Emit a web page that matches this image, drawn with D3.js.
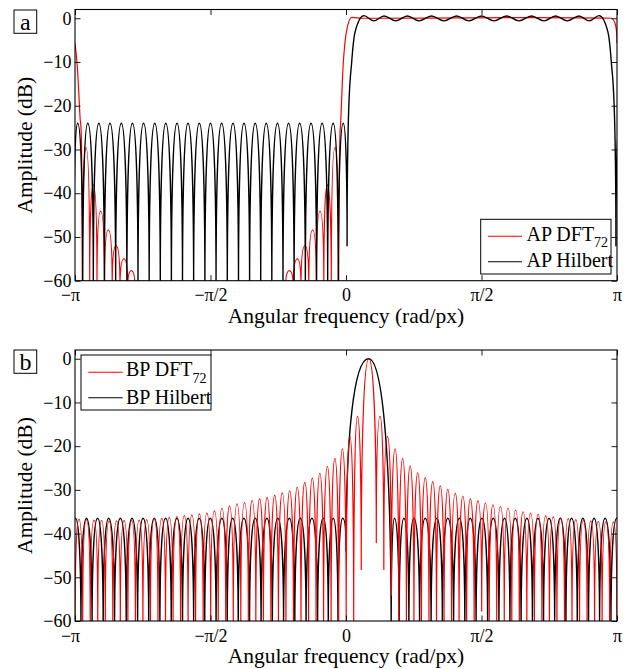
<!DOCTYPE html>
<html><head><meta charset="utf-8">
<script src="https://cdn.jsdelivr.net/npm/d3@7"></script>
<style>
body{margin:0;background:#fff;}
svg text{font-family:"Liberation Serif","Times New Roman",serif !important;fill:#000;}
</style></head><body>
<svg id="c" width="629" height="669"></svg>
<script>
// ---------------- data ----------------
// x in units of pi rad/px, y in dB; kind: n = null (cusp), p = local extremum, s = slope point
const xTickValues = [-1, -0.5, 0, 0.5, 1];
const xTickLabels = ["\u2212\u03c0", "\u2212\u03c0/2", "0", "\u03c0/2", "\u03c0"];
const yTickValues = [0, -10, -20, -30, -40, -50, -60];
const yTickLabels = ["0", "\u221210", "\u221220", "\u221230", "\u221240", "\u221250", "\u221260"];

const apDft = [
 [-1.0,-5.7,'s'],[-0.9915,-11,'s'],[-0.9816,-22.5,'s'],[-0.9753,-31.6,'s'],[-0.9732,-62,'n'],
 [-0.9594,-29.6,'p'],[-0.9458,-62,'n'],[-0.9325,-38.1,'p'],[-0.9188,-62,'n'],[-0.9052,-44.1,'p'],[-0.8911,-62,'n'],
 [-0.8771,-48.4,'p'],[-0.8627,-62,'n'],[-0.8487,-52,'p'],[-0.8339,-62,'n'],[-0.8192,-55,'p'],[-0.8055,-62,'n'],
 [-0.7922,-57.7,'p'],[-0.7786,-62,'n'],
 [-0.2232,-62,'n'],[-0.2092,-57.7,'p'],[-0.1945,-62,'n'],[-0.1797,-55,'p'],[-0.1661,-62,'n'],[-0.1513,-52,'p'],
 [-0.1373,-62,'n'],[-0.1229,-48.4,'p'],[-0.1096,-62,'n'],[-0.0959,-44.1,'p'],[-0.0819,-62,'n'],[-0.0690,-38.1,'p'],
 [-0.0542,-62,'n'],[-0.0406,-29.6,'p'],[-0.0269,-62,'n'],
 [-0.0240,-32,'s'],[-0.0185,-22.5,'s'],[-0.0103,-10.5,'s'],[0.0018,-3,'s'],[0.021,0.2,'p'],[0.06,0,'s'],
 [0.978,0,'s'],[0.9926,-1.1,'s'],[0.9989,-3.4,'s'],[1.0,-5.7,'s']
];

const apHilbert = [
 [-1.004,-52,'n'],[-0.990,-24,'p'],[-0.9714,-62,'n'],[-0.9528,-24,'p'],[-0.9324,-62,'n'],[-0.912,-24,'p'],
 [-0.8915,-62,'n'],[-0.871,-24,'p'],[-0.850,-62,'n'],[-0.829,-24,'p'],[-0.8085,-62,'n'],[-0.788,-24,'p'],
 [-0.7675,-62,'n'],[-0.747,-24,'p'],[-0.7263,-62,'n'],[-0.7056,-24,'p'],[-0.6853,-62,'n'],[-0.665,-24,'p'],
 [-0.6443,-62,'n'],[-0.6236,-24,'p'],[-0.6033,-62,'n'],[-0.583,-24,'p'],[-0.5622,-62,'n'],[-0.5413,-24,'p'],
 [-0.5207,-62,'n'],[-0.500,-24,'p'],[-0.4795,-62,'n'],[-0.459,-24,'p'],[-0.438,-62,'n'],[-0.417,-24,'p'],
 [-0.3967,-62,'n'],[-0.3764,-24,'p'],[-0.3557,-62,'n'],[-0.335,-24,'p'],[-0.3147,-62,'n'],[-0.2944,-24,'p'],
 [-0.2737,-62,'n'],[-0.253,-24,'p'],[-0.2325,-62,'n'],[-0.212,-24,'p'],[-0.1915,-62,'n'],[-0.171,-24,'p'],
 [-0.150,-62,'n'],[-0.129,-24,'p'],[-0.1085,-62,'n'],[-0.088,-24,'p'],[-0.0676,-62,'n'],[-0.0472,-24,'p'],
 [-0.0286,-62,'n'],[-0.010,-24,'p'],[0.004,-52,'n'],[0.0085,-24,'s'],[0.021,-10,'s'],[0.034,-3,'s'],
 [0.066,0.6,'p'],[0.102,-0.6,'p'],[0.1405,0.5,'p'],[0.1835,-0.6,'p'],[0.2265,0.5,'p'],[0.2695,-0.6,'p'],
 [0.3155,0.5,'p'],[0.3615,-0.6,'p'],[0.408,0.5,'p'],[0.4535,-0.6,'p'],[0.500,0.5,'p'],[0.5465,-0.6,'p'],
 [0.592,0.5,'p'],[0.6385,-0.6,'p'],[0.6845,0.5,'p'],[0.7305,-0.6,'p'],[0.7735,0.5,'p'],[0.8165,-0.6,'p'],
 [0.8595,0.5,'p'],[0.898,-0.6,'p'],[0.934,0.6,'p'],[0.966,-3,'s'],[0.979,-10,'s'],[0.9915,-24,'s'],
 [0.996,-52,'n'],[1.010,-24,'p']
];

const bpDft = [
 [-1.0,-62,'n'],[-0.9854,-36.7,'p'],[-0.9716,-62,'n'],[-0.9577,-36.8,'p'],[-0.9438,-62,'n'],[-0.9299,-36.9,'p'],
 [-0.9160,-62,'n'],[-0.9021,-37.0,'p'],[-0.8882,-62,'n'],[-0.8743,-37.1,'p'],[-0.8604,-62,'n'],[-0.8466,-37.1,'p'],
 [-0.8327,-62,'n'],[-0.8188,-37.0,'p'],[-0.8049,-62,'n'],[-0.7910,-37.0,'p'],[-0.7771,-62,'n'],[-0.7632,-36.9,'p'],
 [-0.7493,-62,'n'],[-0.7354,-36.8,'p'],[-0.7216,-62,'n'],[-0.7077,-36.6,'p'],[-0.6938,-62,'n'],[-0.6799,-36.5,'p'],
 [-0.6660,-62,'n'],[-0.6521,-36.3,'p'],[-0.6382,-62,'n'],[-0.6243,-36.1,'p'],[-0.6104,-62,'n'],[-0.5966,-35.9,'p'],
 [-0.5827,-62,'n'],[-0.5688,-35.7,'p'],[-0.5549,-62,'n'],[-0.5410,-35.5,'p'],[-0.5271,-62,'n'],[-0.5132,-35.3,'p'],
 [-0.4993,-62,'n'],[-0.4854,-34.8,'p'],[-0.4716,-62,'n'],[-0.4577,-34.2,'p'],[-0.4438,-62,'n'],[-0.4299,-33.7,'p'],
 [-0.4160,-62,'n'],[-0.4021,-33.2,'p'],[-0.3882,-62,'n'],[-0.3743,-32.9,'p'],[-0.3604,-62,'n'],[-0.3466,-32.4,'p'],
 [-0.3327,-62,'n'],[-0.3188,-32.0,'p'],[-0.3049,-62,'n'],[-0.2910,-31.7,'p'],[-0.2771,-62,'n'],[-0.2632,-31.2,'p'],
 [-0.2493,-62,'n'],[-0.2354,-30.7,'p'],[-0.2216,-62,'n'],[-0.2077,-30.2,'p'],[-0.1938,-62,'n'],[-0.1799,-29.4,'p'],
 [-0.1660,-62,'n'],[-0.1521,-28.3,'p'],[-0.1382,-62,'n'],[-0.1243,-27.3,'p'],[-0.1104,-62,'n'],[-0.0966,-26.2,'p'],
 [-0.0827,-62,'n'],[-0.0688,-24.6,'p'],[-0.0549,-62,'n'],[-0.0410,-22.8,'p'],[-0.0271,-62,'n'],[-0.0132,-20.6,'p'],
 [0.0007,-62,'n'],[0.0146,-17.8,'p'],[0.0284,-62,'n'],[0.0423,-13.2,'p'],[0.0562,-48.2,'n'],[0.084,0,'p'],
 [0.1118,-42.1,'n'],[0.1257,-13.2,'p'],[0.1396,-48.2,'n'],[0.1534,-17.8,'p'],[0.1673,-54.1,'n'],[0.1812,-20.6,'p'],
 [0.1951,-62,'n'],[0.2090,-22.8,'p'],[0.2229,-62,'n'],[0.2368,-24.5,'p'],[0.2507,-62,'n'],[0.2646,-26.1,'p'],
 [0.2784,-62,'n'],[0.2923,-27.2,'p'],[0.3062,-62,'n'],[0.3201,-28.1,'p'],[0.3340,-62,'n'],[0.3479,-29.1,'p'],
 [0.3618,-62,'n'],[0.3757,-29.9,'p'],[0.3896,-62,'n'],[0.4034,-30.8,'p'],[0.4173,-62,'n'],[0.4312,-31.4,'p'],
 [0.4451,-62,'n'],[0.4590,-32.0,'p'],[0.4729,-62,'n'],[0.4868,-32.5,'p'],[0.5007,-57.7,'n'],[0.5146,-33.0,'p'],
 [0.5284,-62,'n'],[0.5423,-33.4,'p'],[0.5562,-62,'n'],[0.5701,-33.8,'p'],[0.5840,-62,'n'],[0.5979,-34.2,'p'],
 [0.6118,-62,'n'],[0.6257,-34.6,'p'],[0.6396,-62,'n'],[0.6534,-35.0,'p'],[0.6673,-62,'n'],[0.6812,-35.3,'p'],
 [0.6951,-62,'n'],[0.7090,-35.6,'p'],[0.7229,-62,'n'],[0.7368,-35.9,'p'],[0.7507,-62,'n'],[0.7646,-36.2,'p'],
 [0.7784,-62,'n'],[0.7923,-36.4,'p'],[0.8062,-62,'n'],[0.8201,-36.6,'p'],[0.8340,-62,'n'],[0.8479,-36.8,'p'],
 [0.8618,-62,'n'],[0.8757,-37.0,'p'],[0.8896,-62,'n'],[0.9034,-37.1,'p'],[0.9173,-62,'n'],[0.9312,-37.2,'p'],
 [0.9451,-62,'n'],[0.9590,-37.3,'p'],[0.9729,-62,'n'],[0.9868,-37.3,'p'],[1.0,-62,'n']
];

const bpHilbert = [
 [-1.02,-62,'n'],[-0.9985,-36.5,'p'],[-0.978,-62,'n'],[-0.9576,-36.5,'p'],[-0.937,-62,'n'],[-0.9167,-36.5,'p'],
 [-0.896,-62,'n'],[-0.8758,-36.5,'p'],[-0.854,-62,'n'],[-0.8325,-36.5,'p'],[-0.811,-62,'n'],[-0.7894,-36.5,'p'],
 [-0.769,-62,'n'],[-0.7488,-36.5,'p'],[-0.728,-62,'n'],[-0.7076,-36.5,'p'],[-0.6867,-62,'n'],[-0.6657,-36.5,'p'],
 [-0.6448,-62,'n'],[-0.6239,-36.5,'p'],[-0.6033,-62,'n'],[-0.5827,-36.5,'p'],[-0.5622,-62,'n'],[-0.5416,-36.5,'p'],
 [-0.5213,-62,'n'],[-0.501,-36.5,'p'],[-0.4794,-62,'n'],[-0.4578,-36.5,'p'],[-0.4382,-62,'n'],[-0.4185,-36.5,'p'],
 [-0.3977,-62,'n'],[-0.3768,-36.5,'p'],[-0.3559,-62,'n'],[-0.3349,-36.5,'p'],[-0.3134,-62,'n'],[-0.2918,-36.5,'p'],
 [-0.2718,-62,'n'],[-0.2517,-36.5,'p'],[-0.2303,-62,'n'],[-0.2089,-36.5,'p'],[-0.1889,-62,'n'],[-0.1689,-36.5,'p'],
 [-0.1473,-62,'n'],[-0.1257,-36.5,'p'],[-0.1048,-62,'n'],[-0.0838,-36.5,'p'],[-0.0654,-62,'n'],[-0.047,-36.5,'p'],
 [-0.0295,-62,'n'],[-0.012,-36.5,'p'],[0.0,-44,'n'],[0.0833,0,'p'],[0.1667,-62,'n'],[0.1787,-36.5,'p'],
 [0.1962,-62,'n'],[0.2137,-36.5,'p'],[0.2321,-62,'n'],[0.2505,-36.5,'p'],[0.2715,-62,'n'],[0.2924,-36.5,'p'],
 [0.314,-62,'n'],[0.3356,-36.5,'p'],[0.3556,-62,'n'],[0.3756,-36.5,'p'],[0.397,-62,'n'],[0.4184,-36.5,'p'],
 [0.4385,-62,'n'],[0.4585,-36.5,'p'],[0.48,-62,'n'],[0.5016,-36.5,'p'],[0.5226,-62,'n'],[0.5435,-36.5,'p'],
 [0.5644,-62,'n'],[0.5852,-36.5,'p'],[0.6049,-62,'n'],[0.6245,-36.5,'p'],[0.6461,-62,'n'],[0.6677,-36.5,'p'],
 [0.688,-62,'n'],[0.7083,-36.5,'p'],[0.7289,-62,'n'],[0.7494,-36.5,'p'],[0.77,-62,'n'],[0.7906,-36.5,'p'],
 [0.8115,-62,'n'],[0.8324,-36.5,'p'],[0.8534,-62,'n'],[0.8743,-36.5,'p'],[0.8949,-62,'n'],[0.9155,-36.5,'p'],
 [0.9358,-62,'n'],[0.9561,-36.5,'p'],[0.9777,-62,'n'],[0.9992,-36.5,'p'],[1.02,-62,'n']
];

const panelLetters = ["a", "b"];
const legendA = ["AP DFT", "AP Hilbert"];
const legendB = ["BP DFT", "BP Hilbert"];
const legendSub = "72";
const xLabel = "Angular frequency (rad/px)";
const yLabel = "Amplitude (dB)";

// ---------------- drawing ----------------
const svg = d3.select("#c");
const FONT = "Liberation Serif, Times New Roman, serif";
const x = d3.scaleLinear().domain([-1, 1]).range([75, 617]);

function handle(P, i, self, other) {
  const dx = other.X - self.X, dy = other.Y - self.Y;
  if (self.k === 'n') return [0, (other.k === 'p' ? 0.6 : 0.33) * dy];
  if (self.k === 'p') return [(other.k === 'n' ? 0.65 : 0.34) * dx, 0];
  const prev = P[i - 1] || self, next = P[i + 1] || self;
  const ddx = next.X - prev.X;
  const s = ddx === 0 ? 0 : (next.Y - prev.Y) / ddx;
  return [dx / 3, s * dx / 3];
}
function buildPath(pts, y) {
  const P = pts.map(d => ({X: x(d[0]), Y: y(d[1]), k: d[2]}));
  const p = d3.path();
  p.moveTo(P[0].X, P[0].Y);
  for (let i = 0; i < P.length - 1; i++) {
    const a = P[i], b = P[i + 1];
    const h1 = handle(P, i, a, b), h2 = handle(P, i + 1, b, a);
    p.bezierCurveTo(a.X + h1[0], a.Y + h1[1], b.X + h2[0], b.Y + h2[1], b.X, b.Y);
  }
  return p.toString();
}

const panels = [
  {top: 9.5, bottom: 280.7, series: [[apDft, "#ff0000", 1.2], [apHilbert, "#000", 1.4]], letter: panelLetters[0],
   boxY: 10, legend: {x0: 480.7, y0: 219.3, x1: 611, y1: 274, labels: legendA, lx0: 488, lx1: 522, tx: 526.5, ly: [236.3, 261.7], ty: [240.7, 267.3]},
   xlabY: 323},
  {top: 350, bottom: 621, series: [[bpHilbert, "#000", 1.4], [bpDft, "#ff0000", 1.2]], letter: panelLetters[1],
   boxY: 350, legend: {x0: 81, y0: 355, x1: 211, y1: 410, labels: legendB, lx0: 88.3, lx1: 122.7, tx: 126, ly: [372.3, 397.7], ty: [376, 404]},
   xlabY: 663}
];

panels.forEach((pn, pi) => {
  const y = d3.scaleLinear().domain([-60, 2]).range([pn.bottom, pn.top]);
  const g = svg.append("g");
  const cid = "clip" + pi;
  svg.append("clipPath").attr("id", cid).append("rect")
    .attr("x", 75).attr("y", pn.top).attr("width", 542).attr("height", pn.bottom - pn.top);
  const sg = g.append("g").attr("clip-path", `url(#${cid})`);
  pn.series.forEach(([data, col, sw]) => {
    sg.append("path").attr("d", buildPath(data, y)).attr("fill", "none")
      .attr("stroke", col).attr("stroke-width", sw).attr("stroke-linejoin", "round");
  });

  const styleAxis = sel => {
    sel.attr("font-family", null).attr("font-size", null);
    sel.select(".domain").remove();
    sel.selectAll("line").attr("stroke", "#000").attr("stroke-width", 0.9);
    sel.selectAll("text").style("font-family", FONT).style("font-size", "18px").attr("fill", "#000");
  };
  g.append("g").attr("transform", `translate(0,${pn.bottom})`)
    .call(d3.axisBottom(x).tickValues(xTickValues).tickFormat((d, i) => xTickLabels[i]).tickSizeInner(-5.5).tickSizeOuter(0).tickPadding(8))
    .call(styleAxis)
    .call(s => s.selectAll(".tick text").filter((d) => d === -1).attr("dx", -5));
  g.append("g").attr("transform", `translate(0,${pn.top})`)
    .call(d3.axisTop(x).tickValues(xTickValues).tickFormat("").tickSizeInner(-5.5).tickSizeOuter(0))
    .call(styleAxis);
  g.append("g").attr("transform", `translate(75,0)`)
    .call(d3.axisLeft(y).tickValues(yTickValues).tickFormat((d, i) => yTickLabels[i]).tickSizeInner(-5.5).tickSizeOuter(0).tickPadding(3.5))
    .call(styleAxis);
  g.append("g").attr("transform", `translate(617,0)`)
    .call(d3.axisRight(y).tickValues(yTickValues).tickFormat("").tickSizeInner(-5.5).tickSizeOuter(0))
    .call(styleAxis);

  g.append("rect").attr("x", 75).attr("y", pn.top).attr("width", 542).attr("height", pn.bottom - pn.top)
    .attr("fill", "none").attr("stroke", "#000").attr("stroke-width", 1.1);

  g.append("text").attr("x", 346).attr("y", pn.xlabY).attr("text-anchor", "middle")
    .style("font-size", "21.5px").text(xLabel);
  g.append("text").attr("transform", `translate(32,${(pn.top + pn.bottom) / 2}) rotate(-90)`)
    .attr("text-anchor", "middle").style("font-size", "21.5px").text(yLabel);

  g.append("rect").attr("x", 14).attr("y", pn.boxY).attr("width", 22.7).attr("height", 23.3)
    .attr("fill", "#fff").attr("stroke", "#000").attr("stroke-width", 1);
  g.append("text").attr("x", 25.4).attr("y", pn.boxY + 19.5).attr("text-anchor", "middle")
    .style("font-size", "24px").text(pn.letter);

  const L = pn.legend;
  g.append("rect").attr("x", L.x0).attr("y", L.y0).attr("width", L.x1 - L.x0).attr("height", L.y1 - L.y0)
    .attr("fill", "#fff").attr("stroke", "#000").attr("stroke-width", 1);
  const cols = ["#ff0000", "#000"];
  L.labels.forEach((lab, i) => {
    g.append("line").attr("x1", L.lx0).attr("x2", L.lx1).attr("y1", L.ly[i]).attr("y2", L.ly[i])
      .attr("stroke", cols[i]).attr("stroke-width", 1.1);
    const t = g.append("text").attr("x", L.tx).attr("y", L.ty[i]).style("font-size", "20px");
    t.append("tspan").text(lab);
    if (i === 0) t.append("tspan").style("font-size", "14px").attr("dy", 6.5).text(legendSub);
  });
});
</script>
</body></html>
